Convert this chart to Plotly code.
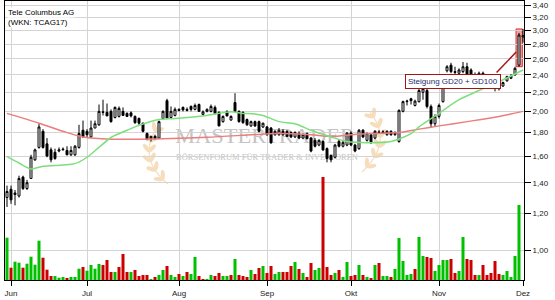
import math, base64
import plotly.graph_objects as go

# ---------------- data ----------------
months = ["Jun", "Jul", "Aug", "Sep", "Okt", "Nov", "Dez"]
month_idx = [1, 20, 43, 65, 86, 108, 129]

opens = [1.30, 1.355, 1.32, 1.31, 1.44, 1.36, 1.43, 1.57, 1.67, 1.81,
         1.70, 1.65, 1.63, 1.64, 1.65, 1.645, 1.61, 1.61, 1.67, 1.82,
         1.81, 1.76, 1.84, 1.87, 1.995, 1.99, 2.00, 1.94, 1.95, 2.00,
         1.98, 1.985, 1.95, 1.93, 1.885, 1.79, 1.745, 1.765, 1.75, 1.93,
         2.11, 1.94, 1.96, 2.02, 2.04, 2.02, 2.05, 2.02, 2.07, 1.97,
         2.00, 2.00, 2.04, 1.99, 1.90, 2.00, 1.915, 2.09, 2.00, 1.99,
         1.92, 1.86, 1.90, 1.90, 1.85, 1.85, 1.84, 1.78, 1.78, 1.81,
         1.81, 1.80, 1.76, 1.79, 1.75, 1.79, 1.75, 1.73, 1.69, 1.72,
         1.66, 1.605, 1.59, 1.72, 1.68, 1.69, 1.795, 1.69, 1.66, 1.82,
         1.73, 1.78, 1.75, 1.805, 1.795, 1.78, 1.81, 1.78, 1.72, 2.00,
         2.10, 2.13, 2.06, 2.10, 2.20, 2.22, 2.05, 1.88, 1.95, 2.10,
         2.45, 2.52, 2.44, 2.42, 2.44, 2.50, 2.46, 2.40, 2.39, 2.42,
         2.36, 2.34, 2.31, 2.24, 2.27, 2.33, 2.36, 2.40, 2.52, 2.90]
highs = [1.38, 1.38, 1.35, 1.45, 1.45, 1.42, 1.61, 1.66, 1.88, 1.83,
         1.75, 1.67, 1.66, 1.67, 1.67, 1.68, 1.68, 1.69, 1.87, 1.91,
         1.83, 1.91, 1.91, 2.07, 2.12, 2.08, 2.02, 2.05, 2.05, 2.04,
         1.99, 2.00, 1.96, 1.94, 1.89, 1.80, 1.77, 1.78, 1.91, 2.01,
         2.13, 2.05, 2.04, 2.03, 2.05, 2.04, 2.06, 2.08, 2.08, 2.01,
         2.03, 2.07, 2.06, 2.00, 1.96, 2.01, 1.96, 2.19, 2.01, 2.00,
         1.93, 1.91, 1.91, 1.91, 1.89, 1.86, 1.85, 1.82, 1.84, 1.83,
         1.82, 1.81, 1.81, 1.81, 1.79, 1.80, 1.76, 1.75, 1.74, 1.73,
         1.67, 1.61, 1.70, 1.74, 1.73, 1.80, 1.81, 1.70, 1.83, 1.83,
         1.80, 1.79, 1.82, 1.82, 1.82, 1.82, 1.82, 1.81, 2.02, 2.11,
         2.12, 2.14, 2.12, 2.25, 2.27, 2.24, 2.07, 1.97, 2.08, 2.36,
         2.52, 2.55, 2.50, 2.48, 2.56, 2.55, 2.48, 2.43, 2.44, 2.44,
         2.38, 2.35, 2.32, 2.28, 2.32, 2.39, 2.41, 2.50, 2.96, 3.02]
lows = [1.24, 1.26, 1.25, 1.30, 1.35, 1.35, 1.43, 1.56, 1.66, 1.66,
        1.59, 1.55, 1.57, 1.63, 1.645, 1.605, 1.60, 1.60, 1.66, 1.75,
        1.76, 1.75, 1.84, 1.86, 1.96, 1.955, 1.89, 1.93, 1.94, 1.955,
        1.945, 1.94, 1.88, 1.87, 1.80, 1.73, 1.72, 1.74, 1.745, 1.92,
        1.93, 1.93, 1.95, 2.00, 2.00, 2.00, 2.00, 2.01, 1.995, 1.96,
        1.99, 1.99, 1.97, 1.855, 1.89, 1.95, 1.91, 1.99, 1.89, 1.88,
        1.86, 1.85, 1.85, 1.80, 1.84, 1.77, 1.70, 1.77, 1.77, 1.77,
        1.76, 1.75, 1.75, 1.74, 1.74, 1.74, 1.63, 1.67, 1.68, 1.64,
        1.55, 1.55, 1.58, 1.67, 1.67, 1.68, 1.68, 1.63, 1.65, 1.75,
        1.72, 1.70, 1.74, 1.79, 1.79, 1.77, 1.77, 1.77, 1.71, 1.99,
        2.06, 2.07, 2.05, 2.09, 2.12, 2.03, 1.84, 1.85, 1.93, 2.09,
        2.43, 2.42, 2.41, 2.40, 2.42, 2.37, 2.39, 2.38, 2.38, 2.35,
        2.33, 2.26, 2.21, 2.22, 2.26, 2.32, 2.35, 2.39, 2.50, 2.82]
closes = [1.34, 1.285, 1.33, 1.43, 1.36, 1.40, 1.59, 1.65, 1.85, 1.67,
          1.60, 1.57, 1.58, 1.65, 1.655, 1.61, 1.645, 1.68, 1.79, 1.76,
          1.78, 1.84, 1.88, 2.00, 1.99, 1.955, 1.90, 2.04, 2.03, 1.96,
          1.95, 1.955, 1.89, 1.885, 1.81, 1.74, 1.765, 1.745, 1.90, 2.00,
          1.935, 2.00, 2.02, 2.01, 2.015, 2.01, 2.02, 2.06, 2.00, 1.995,
          2.02, 2.05, 1.98, 1.86, 1.95, 1.955, 1.95, 2.00, 1.90, 1.89,
          1.87, 1.90, 1.86, 1.81, 1.885, 1.78, 1.71, 1.81, 1.82, 1.78,
          1.765, 1.76, 1.80, 1.75, 1.78, 1.745, 1.64, 1.68, 1.73, 1.65,
          1.58, 1.57, 1.69, 1.68, 1.71, 1.795, 1.69, 1.64, 1.82, 1.76,
          1.79, 1.71, 1.81, 1.80, 1.805, 1.81, 1.78, 1.80, 2.01, 2.10,
          2.105, 2.11, 2.105, 2.22, 2.24, 2.05, 1.88, 1.95, 2.06, 2.35,
          2.50, 2.44, 2.43, 2.46, 2.50, 2.41, 2.40, 2.395, 2.42, 2.36,
          2.34, 2.27, 2.26, 2.255, 2.31, 2.38, 2.385, 2.48, 2.93, 2.92]
volumes = [423, 123, 183, 173, 123, 163, 233, 153, 393, 223,
           103, 40, 40, 23, 30, 20, 30, 30, 113, 130,
           93, 150, 113, 160, 150, 200, 80, 80, 130, 260,
           80, 80, 100, 40, 50, 50, 10, 30, 50, 100,
           140, 50, 30, 60, 40, 80, 60, 230, 40, 10,
           10, 50, 40, 70, 40, 40, 50, 210, 50, 40,
           30, 100, 60, 120, 140, 70, 140, 60, 80, 80,
           80, 140, 180, 110, 70, 30, 170, 100, 120, 1030,
           130, 50, 70, 100, 30, 180, 40, 50, 150, 50,
           30, 20, 150, 170, 40, 40, 30, 110, 420, 190,
           50, 60, 110, 430, 240, 230, 220, 90, 150, 200,
           200, 210, 70, 90, 430, 210, 200, 50, 50, 150,
           50, 70, 190, 60, 50, 90, 30, 240, 750, 0]

gd20_idx = [0, 3, 6, 9, 14, 17, 20, 23, 26, 30, 33, 38, 42, 50, 56, 59, 62, 64,
            68, 72, 76, 81, 85, 90, 96, 101, 103, 108, 113, 118, 123, 129]
gd20_val = [1.595, 1.545, 1.50, 1.52, 1.53, 1.54, 1.59, 1.67, 1.755, 1.82, 1.865,
            1.92, 1.93, 1.96, 1.995, 1.98, 1.975, 1.96, 1.90, 1.88, 1.82, 1.76,
            1.72, 1.71, 1.72, 1.79, 1.85, 1.98, 2.12, 2.22, 2.32, 2.46]
gd100_idx = [0, 8, 14, 19, 26, 33, 50, 68, 76, 81, 88, 98, 103, 108, 115, 123, 129]
gd100_val = [1.98, 1.885, 1.81, 1.76, 1.74, 1.74, 1.757, 1.79, 1.78, 1.765, 1.785,
             1.80, 1.83, 1.86, 1.90, 1.95, 2.00]

price_ticks = [1.0, 1.2, 1.4, 1.6, 1.8, 2.0, 2.2, 2.4, 2.6, 2.8, 3.0, 3.2, 3.4]
price_labels = ["1,00", "1,20", "1,40", "1,60", "1,80", "2,00", "2,20", "2,40",
                "2,60", "2,80", "3,00", "3,20", "3,40"]

title_name = "Tele Columbus AG"
title_wkn = "(WKN: TCAG17)"
note_text = "Steigung GD20 + GD100"

# ---------------- figure ----------------
idx = list(range(len(closes)))
vol_colors = ["#00c000" if (i == 0 or closes[i] >= closes[i - 1]) else "#cc0000"
              for i in idx]

FONT = "Liberation Sans, Arial, sans-serif"
fig = go.Figure()

fig.add_trace(go.Bar(x=idx, y=volumes, width=0.75, yaxis="y",
                     marker=dict(color=vol_colors, line=dict(width=0)),
                     showlegend=False, hoverinfo="skip"))
fig.add_trace(go.Scatter(x=gd100_idx, y=gd100_val, yaxis="y2", mode="lines",
                         line=dict(color="rgb(235,125,125)", width=1.5,
                                   shape="spline", smoothing=0.8),
                         showlegend=False, hoverinfo="skip"))
fig.add_trace(go.Scatter(x=gd20_idx, y=gd20_val, yaxis="y2", mode="lines",
                         line=dict(color="rgb(125,222,125)", width=1.5,
                                   shape="spline", smoothing=0.8),
                         showlegend=False, hoverinfo="skip"))
fig.add_trace(go.Candlestick(x=idx, open=opens, high=highs, low=lows, close=closes,
                             yaxis="y2", whiskerwidth=0,
                             increasing=dict(line=dict(color="black", width=1),
                                             fillcolor="white"),
                             decreasing=dict(line=dict(color="black", width=1),
                                             fillcolor="black"),
                             showlegend=False, hoverinfo="skip"))

# log axis range so that the plot area maps as in the reference
y_lo = math.log10(0.8607)
y_hi = math.log10(3.4729)
def paper_y(price):
    return (math.log10(price) - y_lo) / (y_hi - y_lo)

GRID = "#d4d4d4"
fig.update_layout(
    width=555, height=300,
    margin=dict(l=5, r=31, t=1, b=20),
    paper_bgcolor="white", plot_bgcolor="white",
    showlegend=False,
    font=dict(family=FONT, size=8, color="#222"),
    xaxis=dict(range=[-0.5, 129.25], tickmode="array", tickvals=month_idx,
               ticktext=months, ticks="outside", ticklen=5, tickcolor="black",
               showgrid=True, gridcolor=GRID, gridwidth=1, zeroline=False,
               showline=True, linecolor="black", linewidth=1, mirror=True,
               rangeslider=dict(visible=False), fixedrange=True,
               tickfont=dict(size=8, family=FONT, color="#222")),
    yaxis=dict(range=[0, 2790], visible=False, showgrid=False, fixedrange=True),
    yaxis2=dict(type="log", range=[y_lo, y_hi], overlaying="y", side="right",
                tickmode="array", tickvals=price_ticks, ticktext=price_labels,
                ticks="outside", ticklen=6, tickcolor="black",
                showgrid=True, gridcolor=GRID, gridwidth=1, zeroline=False,
                showline=True, linecolor="black", linewidth=1, mirror=True,
                fixedrange=True,
                tickfont=dict(size=8, family=FONT, color="#222")),
)

# title labels (top-left)
PH = 279.0
def py(ypix):
    return (280.0 - ypix) / PH
fig.add_annotation(text=title_name, xref="paper", yref="paper", x=0.003, y=py(12.5),
                   xanchor="left", yanchor="middle", showarrow=False,
                   font=dict(size=8, family=FONT, color="black"),
                   bgcolor="white", borderpad=0)
fig.add_annotation(text=title_wkn, xref="paper", yref="paper", x=0.003, y=py(22),
                   xanchor="left", yanchor="middle", showarrow=False,
                   font=dict(size=8, family=FONT, color="black"),
                   bgcolor="white", borderpad=0)

# highlight box around the last big candle (below the traces)
fig.add_shape(type="rect", xref="x", yref="paper", x0=127.25, x1=128.85,
              y0=paper_y(2.50), y1=paper_y(3.02),
              fillcolor="rgba(238,95,95,0.6)",
              line=dict(color="rgba(215,40,40,0.9)", width=1), layer="below")
# connector line
fig.add_shape(type="line", xref="x", yref="paper", x0=122.4, y0=paper_y(2.43),
              x1=127.3, y1=paper_y(2.69),
              line=dict(color="#a31515", width=1.5), layer="above")
# note box
fig.add_annotation(text=note_text, xref="x", yref="paper", x=111.4,
                   y=paper_y(2.3456), yshift=5, showarrow=False,
                   font=dict(size=8, family=FONT, color="#1f2a6b"),
                   bgcolor="white", bordercolor="#a31515", borderwidth=1, borderpad=2)

# ---------------- watermark (SVG image, below traces) ----------------
OX, OY = 5, 1
def leaves(p0, p1, p2, color):
    out = []
    pts = []
    for k in range(13):
        t = k / 12
        x = (1 - t) ** 2 * p0[0] + 2 * (1 - t) * t * p1[0] + t * t * p2[0]
        y = (1 - t) ** 2 * p0[1] + 2 * (1 - t) * t * p1[1] + t * t * p2[1]
        pts.append((x - OX, y - OY))
    d = "M" + " L".join(f"{x:.1f},{y:.1f}" for x, y in pts)
    out.append(f"<path d='{d}' stroke='{color}' stroke-width='1.2' fill='none'/>")
    for k in range(1, 12, 2):
        x, y = pts[k]
        x2, y2 = pts[k + 1]
        ang = math.degrees(math.atan2(y2 - y, x2 - x))
        for side in (-1, 1):
            a = ang + side * 40
            cx = x + 4.5 * math.cos(math.radians(a))
            cy = y + 4.5 * math.sin(math.radians(a))
            out.append(f"<ellipse cx='{cx:.1f}' cy='{cy:.1f}' rx='5' ry='2.1' "
                       f"fill='{color}' transform='rotate({a:.1f} {cx:.1f} {cy:.1f})'/>")
    return "".join(out)

laurel = "#f3d3a6"
svg = (
    "<svg xmlns='http://www.w3.org/2000/svg' width='519' height='279' viewBox='0 0 519 279'>"
    f"<g opacity='0.75'>{leaves((362,172),(394,142),(370,112),laurel)}"
    f"{leaves((168,184),(136,158),(158,126),laurel)}</g>"
    f"<text x='{265-OX}' y='{143.3-OY}' text-anchor='middle' font-family='Liberation Serif' "
    "font-size='20' fill='#c4c4c4' textLength='180' lengthAdjust='spacingAndGlyphs'>MASTERTRADER</text>"
    f"<text x='{267-OX}' y='{160-OY}' text-anchor='middle' font-family='Liberation Serif' "
    "font-size='9' fill='#c4c4c4' textLength='182' lengthAdjust='spacingAndGlyphs'>"
    "BÖRSENFORUM FÜR TRADER &amp; INVESTOREN</text>"
    "</svg>"
)
src = "data:image/svg+xml;base64," + base64.b64encode(svg.encode("utf-8")).decode()
fig.add_layout_image(dict(source=src, xref="paper", yref="paper", x=0, y=1,
                          sizex=1, sizey=1, xanchor="left", yanchor="top",
                          sizing="stretch", layer="below"))

fig.write_html("out.html", config={"displayModeBar": False})
